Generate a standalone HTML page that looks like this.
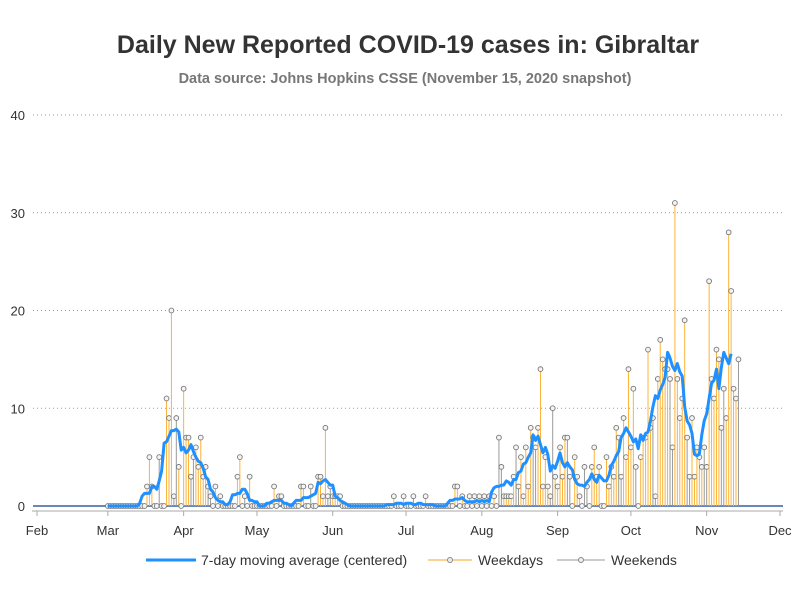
<!DOCTYPE html>
<html><head><meta charset="utf-8"><style>
body{margin:0;background:#fff;font-family:"Liberation Sans",sans-serif;}
svg text{font-family:"Liberation Sans",sans-serif;}
</style></head><body>
<svg id="chart" width="800" height="600" xmlns="http://www.w3.org/2000/svg">
<text x="408" y="53" text-anchor="middle" font-size="25" font-weight="bold" fill="#333">Daily New Reported COVID-19 cases in: Gibraltar</text>
<text x="405" y="83" text-anchor="middle" font-size="14.5" font-weight="bold" fill="#777">Data source: Johns Hopkins CSSE (November 15, 2020 snapshot)</text>
<g id="grid"></g>
<g id="stems"></g>
<g id="axes"></g>
<g>
 <line x1="146" y1="560" x2="196" y2="560" stroke="#1e90ff" stroke-width="3"/>
 <text x="201" y="565" font-size="14" fill="#333">7-day moving average (centered)</text>
 <line x1="428" y1="560" x2="472" y2="560" stroke="#f5a623" stroke-width="1"/>
 <circle cx="450" cy="560" r="2.5" fill="#eee" stroke="#888"/>
 <text x="478" y="565" font-size="14" fill="#333">Weekdays</text>
 <line x1="557" y1="560" x2="605" y2="560" stroke="#999" stroke-width="1"/>
 <circle cx="581" cy="560" r="2.5" fill="#eee" stroke="#888"/>
 <text x="611" y="565" font-size="14" fill="#333">Weekends</text>
</g>
</svg>
<script>
const startDay = 29; // days after Feb 1, 2020 (Mar 1)
const yTicks = [0, 10, 20, 30, 40];
const monthLabels = ["Feb","Mar","Apr","May","Jun","Jul","Aug","Sep","Oct","Nov","Dec"];
const monthStartDays = [0,29,60,90,121,151,182,213,243,274,304];
const marchCases = [0,0,0,0,0,0,0,0,0,0,0,0,0,0,0,0,2,5,2,0,0,5,0,0,11,9,20,1,9,4,0];
const aprilCases = [12,7,7,3,5,6,4,7,3,4,2,1,0,2,0,1,0,0,0,0,0,0,3,5,0,1,0,3,0,0];
const mayCases = [0,0,0,0,0,0,0,2,0,1,1,0,0,0,0,0,0,0,2,2,0,0,2,0,0,3,3,1,8,1,2];
const juneCases = [1,1,1,1,0,0,0,0,0,0,0,0,0,0,0,0,0,0,0,0,0,0,0,0,0,1,0,0,0,1];
const julyCases = [0,0,0,1,0,0,0,0,1,0,0,0,0,0,0,0,0,0,0,0,2,2,0,1,0,0,1,0,1,0,1];
const augustCases = [0,1,0,1,0,1,0,7,4,1,1,1,1,3,6,2,5,1,6,2,8,7,6,8,14,2,5,2,1,10,3];
const septemberCases = [2,6,3,7,7,3,0,5,3,1,0,4,2,0,4,6,3,4,0,0,5,2,4,3,8,7,3,9,5,14];
const octoberCases = [6,12,4,0,5,7,7,16,8,9,1,13,17,15,14,14,13,6,31,13,9,11,19,7,3,9,3,6,5,4,6];
const novemberCases = [4,23,13,11,16,15,8,12,9,28,22,12,11,15];
const cases = [].concat(marchCases,aprilCases,mayCases,juneCases,julyCases,augustCases,septemberCases,octoberCases,novemberCases);

const NS = "http://www.w3.org/2000/svg";
const x = d => 37 + d * (743/304);
const y = v => 506 - v * 9.775;
function mk(tag, attrs, parent){const e=document.createElementNS(NS,tag);for(const k in attrs)e.setAttribute(k,attrs[k]);parent.appendChild(e);return e;}
const grid=document.getElementById('grid'), stems=document.getElementById('stems'), axes=document.getElementById('axes');

yTicks.forEach(t=>{
  if(t>0){const g=mk('line',{x1:33,x2:783,y1:y(t),y2:y(t),stroke:'#999','stroke-dasharray':'1,3'},grid);
  
  }
  const l=mk('text',{x:25,y:y(t)+5,'text-anchor':'end','font-size':13,fill:'#333'},axes);
  l.textContent=t;
  
  
});
const zl=mk('line',{x1:33,x2:783,y1:y(0),y2:y(0),stroke:'#3a5fa0','stroke-width':1.5},grid);


const ax=mk('line',{x1:32,x2:783,y1:511,y2:511,stroke:'#aaa'},axes);


monthLabels.forEach((m,i)=>{
  const xx=x(monthStartDays[i]);
  mk('line',{x1:xx,x2:xx,y1:511,y2:516,stroke:'#aaa'},axes);
  const t=mk('text',{x:xx,y:535,'text-anchor':'middle','font-size':13,fill:'#333'},axes);
  t.textContent=m;
  
  
});

cases.forEach((v,i)=>{
  const d=startDay+i; const weekend=(d%7===0||d%7===1);
  const xx=x(d);
  const s=mk('line',{x1:xx,x2:xx,y1:y(0),y2:y(v),stroke:weekend?'#999':'#fbb33a','stroke-width':1},stems);
  
  
  const c=mk('circle',{cx:xx,cy:y(v),r:2.4,fill:'#f4f4f4',stroke:'#777','stroke-width':0.9},stems);
  
  
});
let pts=[];
for(let i=0;i<cases.length;i++){
  let s=0,n=0;for(let k=i-3;k<=i+3;k++){if(k>=0&&k<cases.length){s+=cases[k];n++;}}
  if(i+3>=cases.length) continue;
  pts.push(x(startDay+i).toFixed(1)+','+y(s/n).toFixed(1));
}
const ma=mk('polyline',{points:pts.join(' '),fill:'none',stroke:'#1e90ff','stroke-width':3,'stroke-linejoin':'round'},stems);


</script>
</body></html>
